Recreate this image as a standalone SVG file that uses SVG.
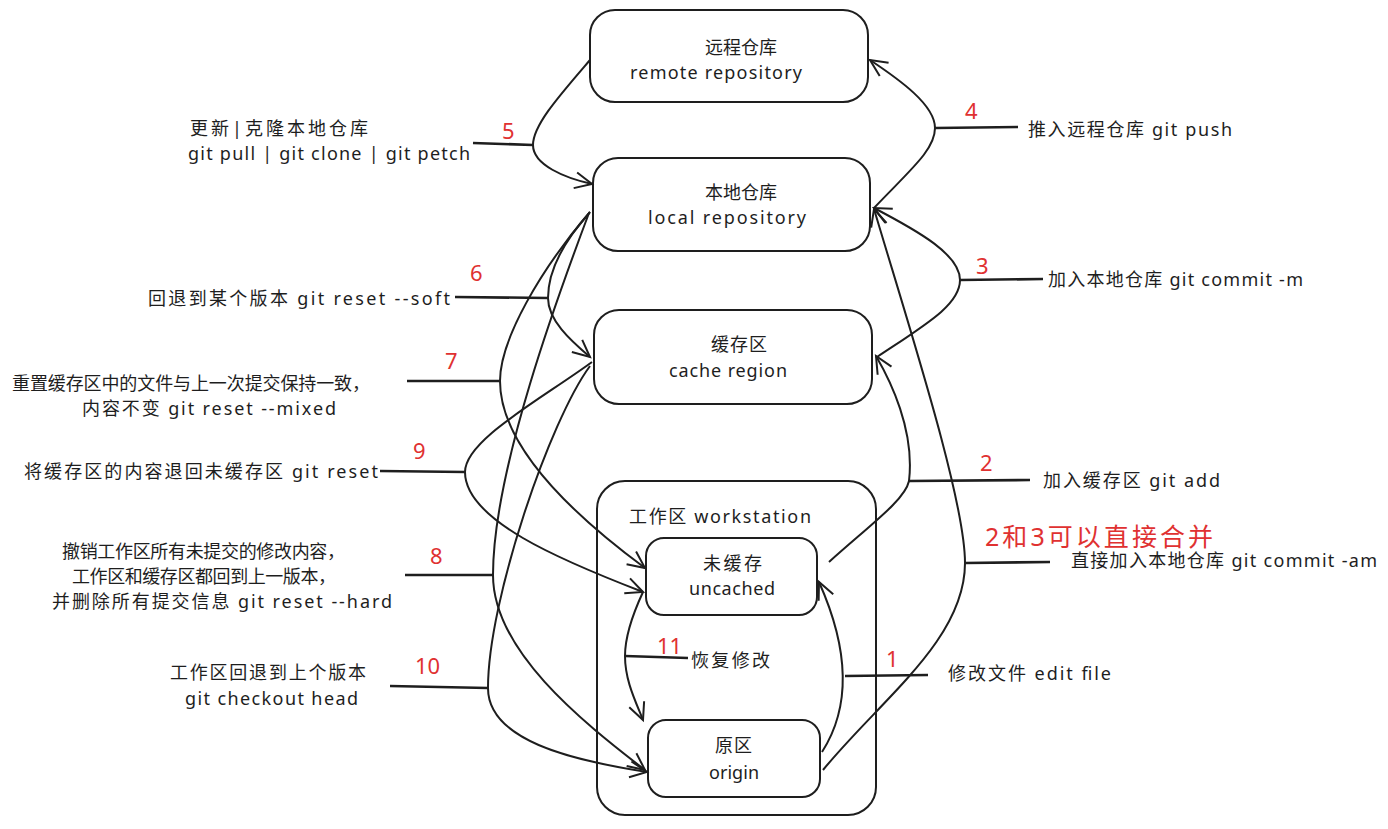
<svg xmlns="http://www.w3.org/2000/svg" width="1388" height="829" viewBox="0 0 1388 829">
<style>
.box{fill:#fff;stroke:#1e1e1e;stroke-width:2}
.wrap{fill:none;stroke:#1e1e1e;stroke-width:2}
.con{fill:none;stroke:#1e1e1e;stroke-width:2}
.lab{fill:none;stroke:#1e1e1e;stroke-width:2.6}
text{font-family:"Noto Sans","Noto Sans CJK SC",sans-serif;font-size:18px;fill:#1e1e1e}
.num{font-size:22px;fill:#e03131}
.note{font-size:25px;fill:#e03131}
</style>
<defs>
<marker id="arr" markerUnits="userSpaceOnUse" markerWidth="24" markerHeight="24" viewBox="-20 -12 24 24" refX="0" refY="0" orient="auto">
<path d="M-17,-8 L0,0 L-17,8" fill="none" stroke="#1e1e1e" stroke-width="2"/>
</marker>
</defs>
<rect width="1388" height="829" fill="#fff"/>

<g id="workstation">
<rect class="wrap" x="597" y="481" width="279" height="334" rx="28"/>
<text x="629" y="523" textLength="182">工作区 workstation</text>
</g>
<g id="remote">
<rect class="box" x="590" y="10" width="278" height="92" rx="25"/>
<text x="705" y="54" textLength="72">远程仓库</text>
<text x="630" y="79" textLength="172">remote repository</text>
</g>
<g id="local">
<rect class="box" x="593" y="158" width="277" height="93" rx="25"/>
<text x="705" y="199" textLength="72">本地仓库</text>
<text x="648" y="224" textLength="158">local  repository</text>
</g>
<g id="cache">
<rect class="box" x="594" y="310" width="278" height="94" rx="25"/>
<text x="711" y="351" textLength="56">缓存区</text>
<text x="669" y="377" textLength="118">cache region</text>
</g>
<g id="uncached">
<rect class="box" x="646" y="538" width="171" height="77" rx="18"/>
<text x="703" y="570" textLength="59">未缓存</text>
<text x="689" y="595" textLength="86">uncached</text>
</g>
<g id="origin">
<rect class="box" x="648" y="720" width="172" height="77" rx="18"/>
<text x="715" y="752" textLength="37">原区</text>
<text x="709" y="779" textLength="50">origin</text>
</g>

<g id="connectors">
<!-- 1 edit file -->
<path class="con" d="M822,752 Q865,685 819,582" marker-end="url(#arr)"/>
<path class="lab" d="M845,676 L928,675"/>
<!-- 2 git add -->
<path class="con" d="M829,562 C870,525 905,500 909,481 C915,430 890,380 876,356" marker-end="url(#arr)"/>
<path class="lab" d="M909,481 L1030,480"/>
<!-- commit -am -->
<path class="con" d="M823,770 C880,700 965,640 965,563 C965,500 910,330 874,209" marker-end="url(#arr)"/>
<path class="lab" d="M965,563 L1050,562"/>
<!-- 3 commit -m -->
<path class="con" d="M877,357 C925,325 960,305 960,280 C960,255 920,232 874,208" marker-end="url(#arr)"/>
<path class="lab" d="M960,280 L1043,279"/>
<!-- 4 push -->
<path class="con" d="M874,208 C910,170 935,150 935,128 C935,105 900,80 870,60" marker-end="url(#arr)"/>
<path class="lab" d="M935,128 L1018,127"/>
<!-- 5 pull -->
<path class="con" d="M590,60 C560,95 533,125 533,145 C533,165 565,178 592,184" marker-end="url(#arr)"/>
<path class="lab" d="M473,143 L533,145"/>
<!-- 6 soft -->
<path class="con" d="M590,212 C565,240 548,270 548,298 C548,320 570,340 590,357" marker-end="url(#arr)"/>
<path class="lab" d="M455,297 L548,298"/>
<!-- 7 mixed -->
<path class="con" d="M590,212 C540,270 500,340 500,381 C500,450 580,520 645,568" marker-end="url(#arr)"/>
<path class="lab" d="M407,381 L500,381"/>
<!-- 9 reset -->
<path class="con" d="M592,362 C540,400 465,440 465,472 C465,520 560,560 643,592" marker-end="url(#arr)"/>
<path class="lab" d="M380,471 L465,472"/>
<!-- 8 hard -->
<path class="con" d="M589,213 C560,290 493,470 493,575 C493,650 580,720 645,770" marker-end="url(#arr)"/>
<path class="lab" d="M405,575 L493,575"/>
<!-- 10 checkout -->
<path class="con" d="M590,366 C550,420 488,600 488,688 C488,740 570,760 647,772" marker-end="url(#arr)"/>
<path class="lab" d="M390,686 L488,688"/>
<!-- 11 restore -->
<path class="con" d="M643,592 C630,620 625,640 625,656 C625,680 635,700 643,720" marker-end="url(#arr)"/>
<path class="lab" d="M625,656 L688,658"/>
</g>

<g id="labels">
<text x="190" y="135" textLength="178">更新|克隆本地仓库</text>
<text x="188" y="160" textLength="282">git pull | git clone | git petch</text>
<text x="148" y="305" textLength="302">回退到某个版本 git reset --soft</text>
<text x="12" y="390" textLength="358">重置缓存区中的文件与上一次提交保持一致，</text>
<text x="82" y="415" textLength="254">内容不变 git reset --mixed</text>
<text x="24" y="478" textLength="354">将缓存区的内容退回未缓存区 git reset</text>
<text x="62" y="558" textLength="283">撤销工作区所有未提交的修改内容，</text>
<text x="72" y="583" textLength="264">工作区和缓存区都回到上一版本，</text>
<text x="52" y="608" textLength="340">并删除所有提交信息 git reset --hard</text>
<text x="170" y="679" textLength="196">工作区回退到上个版本</text>
<text x="185" y="705" textLength="173">git checkout head</text>
<text x="1028" y="136" textLength="204">推入远程仓库 git push</text>
<text x="1048" y="286" textLength="255">加入本地仓库 git commit -m</text>
<text x="1043" y="487" textLength="177">加入缓存区 git add</text>
<text x="1071" y="567" textLength="306">直接加入本地仓库 git commit -am</text>
<text x="948" y="680" textLength="163">修改文件 edit file</text>
<text x="691" y="667" textLength="79">恢复修改</text>
<text class="note" x="985" y="546" textLength="228">2和3可以直接合并</text>
<text class="num" x="502" y="139">5</text>
<text class="num" x="470" y="281">6</text>
<text class="num" x="445" y="369">7</text>
<text class="num" x="413" y="459">9</text>
<text class="num" x="430" y="564">8</text>
<text class="num" x="415" y="674">10</text>
<text class="num" x="965" y="119">4</text>
<text class="num" x="976" y="274">3</text>
<text class="num" x="980" y="471">2</text>
<text class="num" x="886" y="667">1</text>
<text class="num" x="657" y="654">11</text>
</g>
</svg>
